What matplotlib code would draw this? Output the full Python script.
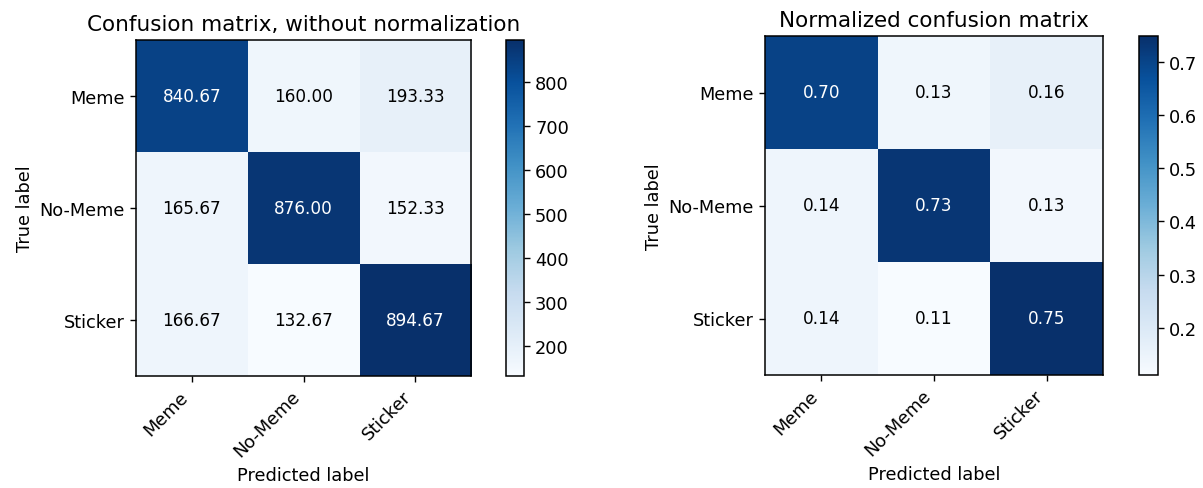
import matplotlib
matplotlib.use("Agg")
import matplotlib.pyplot as plt
import numpy as np

classes = ["Meme", "No-Meme", "Sticker"]

# confusion matrix values
cm_counts = np.array([[840.67, 160.00, 193.33],
                      [165.67, 876.00, 152.33],
                      [166.67, 132.67, 894.67]])

cm_norm = np.array([[0.704, 0.134, 0.162],
                    [0.139, 0.734, 0.128],
                    [0.140, 0.111, 0.749]])

plt.rcParams['font.size'] = 12.8
plt.rcParams['xtick.major.size'] = 4.5
plt.rcParams['ytick.major.size'] = 4.5
plt.rcParams['xtick.major.width'] = 1.0
plt.rcParams['ytick.major.width'] = 1.0
plt.rcParams['axes.linewidth'] = 1.1

fig = plt.figure(figsize=(12.03, 4.89), dpi=100)

ax1 = fig.add_axes([136/1203, 1 - 377/489, 335/1203, 336/489])
cax1 = fig.add_axes([506/1203, 1 - 377/489, 18/1203, 336/489])
ax2 = fig.add_axes([765/1203, 1 - 376/489, 338/1203, 339/489])
cax2 = fig.add_axes([1139/1203, 1 - 376/489, 19/1203, 339/489])


def plot_cm(ax, cax, cm, title, fmt):
    im = ax.imshow(cm, interpolation='nearest', cmap=plt.cm.Blues, aspect='auto')
    ax.set_title(title, fontsize=15.5, pad=7.5)
    cb = fig.colorbar(im, cax=cax)
    cb.outline.set_linewidth(1.1)
    cb.ax.tick_params(labelsize=12.8)
    tick_marks = np.arange(len(classes))
    ax.set_xticks(tick_marks)
    ax.set_xticklabels(classes, rotation=45, ha='right')
    ax.set_yticks(tick_marks)
    ax.set_yticklabels(classes)
    thresh = cm.max() / 2.
    for i in range(cm.shape[0]):
        for j in range(cm.shape[1]):
            ax.text(j, i, format(cm[i, j], fmt),
                    ha="center", va="center", fontsize=12.2,
                    color="white" if cm[i, j] > thresh else "black")
    ax.set_ylabel('True label')
    ax.set_xlabel('Predicted label')


plot_cm(ax1, cax1, cm_counts, 'Confusion matrix, without normalization', '.2f')
plot_cm(ax2, cax2, cm_norm, 'Normalized confusion matrix', '.2f')

fig.savefig("out.png", dpi=100)
